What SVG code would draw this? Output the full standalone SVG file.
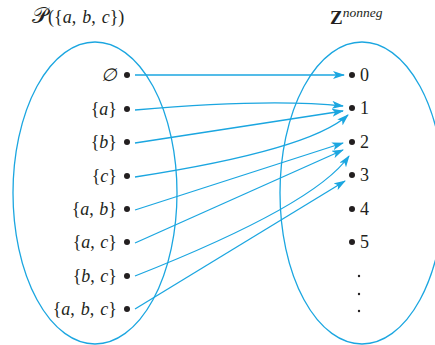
<svg xmlns="http://www.w3.org/2000/svg" width="435" height="345" viewBox="0 0 435 345">
<style>
.ell{fill:none;stroke:#1ba6e0;stroke-width:1.3}
text{font-family:'Liberation Serif','Times New Roman','DejaVu Serif',serif;font-size:18px;fill:#231f20}
.r{text-anchor:end}
.i{font-style:italic}
.dot{fill:#231f20}
.arr{fill:none;stroke:#1ba6e0;stroke-width:1.3;marker-end:url(#ah)}
</style>
<defs>
<marker id="ah" viewBox="0 0 12 8" refX="11" refY="4" markerWidth="12" markerHeight="8" markerUnits="userSpaceOnUse" orient="auto">
<path d="M0,0 L12,4 L0,8 L3,4 Z" fill="#1ba6e0"/>
</marker>
</defs>
<g id="titles">
<text x="32" y="23" font-size="19"><tspan font-family="DejaVu Sans, serif" font-size="22">𝒫</tspan>({<tspan class="i">a</tspan>, <tspan class="i" dx="1.5">b</tspan>, <tspan class="i" dx="1.5">c</tspan>})</text>
<text x="330" y="24"><tspan font-weight="bold" font-size="19">Z</tspan><tspan class="i" font-size="13.5" dy="-7">nonneg</tspan></text>
</g>
<g id="domain">
<ellipse class="ell" cx="95" cy="193" rx="82" ry="151"/>
</g>
<g id="codomain">
<ellipse class="ell" cx="362" cy="193" rx="82" ry="151"/>
</g>
<g id="n-empty"><text class="r i" x="117" y="81">∅</text><circle class="dot" cx="127" cy="75" r="3"/></g>
<g id="n-a"><text class="r" x="117" y="115">{<tspan class="i">a</tspan>}</text><circle class="dot" cx="127" cy="109" r="3"/></g>
<g id="n-b"><text class="r" x="117" y="148">{<tspan class="i">b</tspan>}</text><circle class="dot" cx="127" cy="142" r="3"/></g>
<g id="n-c"><text class="r" x="117" y="182">{<tspan class="i">c</tspan>}</text><circle class="dot" cx="127" cy="176" r="3"/></g>
<g id="n-ab"><text class="r" x="117" y="215">{<tspan class="i">a</tspan>, <tspan class="i" dx="1">b</tspan>}</text><circle class="dot" cx="127" cy="209" r="3"/></g>
<g id="n-ac"><text class="r" x="117" y="248">{<tspan class="i">a</tspan>, <tspan class="i" dx="1">c</tspan>}</text><circle class="dot" cx="127" cy="242" r="3"/></g>
<g id="n-bc"><text class="r" x="117" y="282">{<tspan class="i">b</tspan>, <tspan class="i" dx="1">c</tspan>}</text><circle class="dot" cx="127" cy="276" r="3"/></g>
<g id="n-abc"><text class="r" x="117" y="315">{<tspan class="i">a</tspan>, <tspan class="i" dx="1.5">b</tspan>, <tspan class="i" dx="1.5">c</tspan>}</text><circle class="dot" cx="127" cy="309" r="3"/></g>
<g id="n-0"><circle class="dot" cx="352" cy="75" r="3"/><text x="360" y="81">0</text></g>
<g id="n-1"><circle class="dot" cx="352" cy="108" r="3"/><text x="360" y="114">1</text></g>
<g id="n-2"><circle class="dot" cx="352" cy="142" r="3"/><text x="360" y="148">2</text></g>
<g id="n-3"><circle class="dot" cx="352" cy="175" r="3"/><text x="360" y="181">3</text></g>
<g id="n-4"><circle class="dot" cx="352" cy="209" r="3"/><text x="360" y="215">4</text></g>
<g id="n-5"><circle class="dot" cx="352" cy="242" r="3"/><text x="360" y="248">5</text></g>
<g id="ellipsis"><circle class="dot" cx="359" cy="276" r="1.2"/><circle class="dot" cx="359" cy="294" r="1.2"/><circle class="dot" cx="359" cy="311" r="1.2"/></g>
<g id="connectors">
<path class="arr" d="M135,75 L344,75"/>
<path class="arr" d="M135,110 Q270,98 343,106"/>
<path class="arr" d="M135,143 L343,111"/>
<path class="arr" d="M135,177 Q310,150 348,115"/>
<path class="arr" d="M135,210 L343,143"/>
<path class="arr" d="M135,243 L343,150"/>
<path class="arr" d="M135,276 Q315,205 349,156"/>
<path class="arr" d="M135,309 L345,181"/>
</g>
</svg>
